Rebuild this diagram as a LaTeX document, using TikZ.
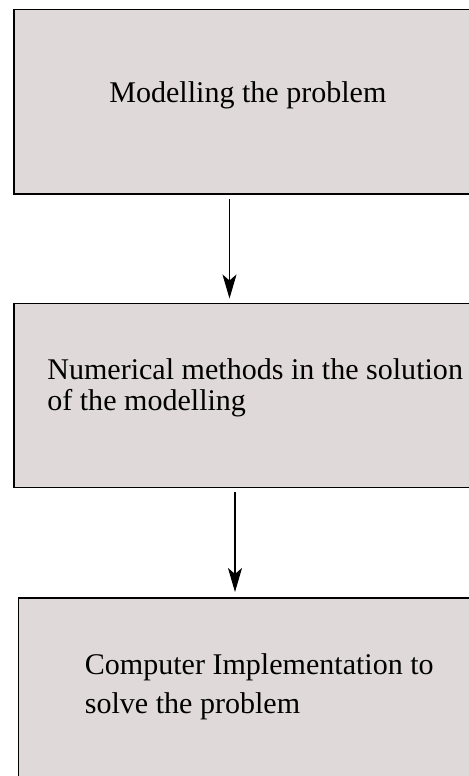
\documentclass[tikz,border=0pt]{standalone}
\usepackage{fontspec}
\setmainfont{Liberation Serif}
\usetikzlibrary{arrows.meta, positioning, calc}
\definecolor{cfill}{HTML}{E0D9DA}
\tikzset{
  box/.style={draw=black, fill=cfill, line width=1.1pt, minimum width=#1, inner sep=0pt},
  box/.default=9.4cm,
  arrow/.style={-{Stealth[length=0.48cm, width=0.28cm, inset=0.12cm]}, draw=black, line width=0.6pt},
  label/.style={font=\fontsize{17.1pt}{17.6pt}\selectfont, inner sep=0pt, align=left},
}
\begin{document}
\begin{tikzpicture}
  \useasboundingbox (0,0) rectangle (9.38,-15.52);
  \clip (0,0) rectangle (9.38,-15.52);
  % the three steps
  \node[box, minimum height=3.69cm, anchor=north west] (model) at (0.26,-0.17) {};
  \node[box, minimum height=3.68cm, anchor=north west] (numer) at (0.26,-6.05) {};
  \node[box, minimum height=4.2cm, anchor=north west] (comp) at (0.35,-11.94) {};
  \node[label, anchor=base west] (modeltxt) at (2.18,-2.04) {Modelling the problem};
  \node[label, anchor=north west] (numertxt) at (0.94,-7.17)
    {Numerical methods in the solution\\of the modelling};
  \node[label, anchor=north west] (comptxt) at (1.69,-13.07)
    {Computer Implementation to\\[4.6pt]solve the problem};
  % arrows between them
  \draw[arrow] ([yshift=-0.08cm]model.south -| 4.59,0) -- ([yshift=0.08cm]numer.north -| 4.59,0);
  \draw[arrow] ([yshift=-0.08cm]numer.south -| 4.70,0) -- ([yshift=0.10cm]comp.north -| 4.70,0);
\end{tikzpicture}
\end{document}
